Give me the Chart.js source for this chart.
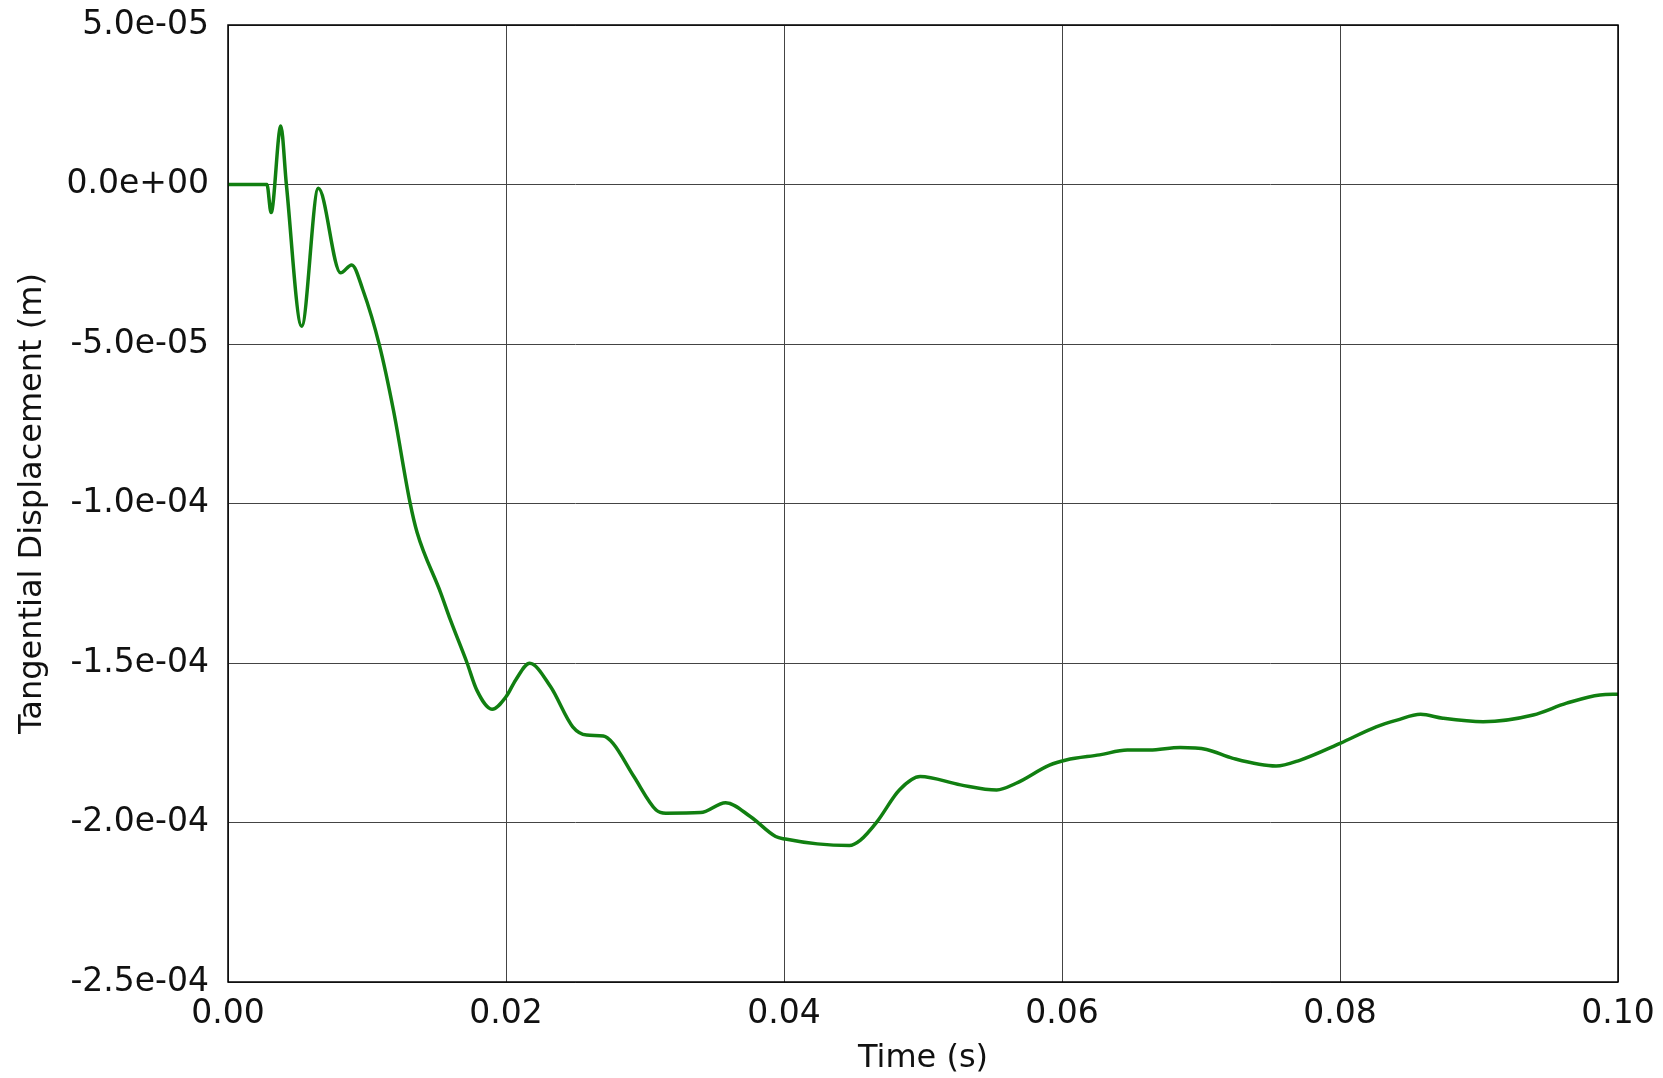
<!DOCTYPE html>
<html>
<head>
<meta charset="utf-8">
<script src="https://cdn.jsdelivr.net/npm/chart.js@4.4.1/dist/chart.umd.min.js"></script>
<style>
  body { margin: 0; background: #fff; }
  #wrap { width: 1663px; height: 1078px; }
</style>
</head>
<body>
<div id="wrap"><canvas id="my_graph" width="1663" height="1078"></canvas></div>
<script>
// time (s) and tangential displacement (in micrometres)
let time_vals = [0, 0.0028, 0.0031, 0.0038, 0.0042, 0.0053, 0.0065, 0.0081, 0.0089, 0.0097,
  0.0109, 0.0119, 0.0131, 0.0136, 0.0153, 0.0160, 0.0172, 0.0179, 0.0190, 0.0200,
  0.0207, 0.0217, 0.0232, 0.0248, 0.0258, 0.0270, 0.0277, 0.0292, 0.0308, 0.0315,
  0.0340, 0.0358, 0.0376, 0.0394, 0.0401, 0.0424, 0.0447, 0.0455, 0.0467, 0.0483,
  0.0498, 0.0527, 0.0553, 0.0567, 0.0591, 0.0603, 0.0627, 0.0647, 0.0663, 0.0685,
  0.0704, 0.0723, 0.0754, 0.0771, 0.0800, 0.0826, 0.0841, 0.0858, 0.0874, 0.0903,
  0.0939, 0.0963, 0.0987, 0.1000];
let disp_micro = [0, 0, -8.8, 18.3, 0, -44.4, -1.2, -27.7, -25.2, -33,
  -50.5, -70.7, -99.8, -109, -128, -136.5, -150, -158.5, -164.5, -160.6,
  -155.3, -150.1, -157.4, -170, -172.6, -172.9, -175.2, -185.6, -196.1, -197.1,
  -196.9, -193.8, -198.2, -204.4, -205.2, -206.7, -207.2, -205.5, -199.7, -189.8,
  -185.6, -188.2, -189.8, -187.7, -182, -180.4, -178.8, -177.3, -177.3, -176.5,
  -177.1, -179.9, -182.3, -180.5, -175.2, -170, -167.9, -166.1, -167.3, -168.4,
  -166.3, -162.6, -160, -159.8];
let x_ticks = [0, 0.02, 0.04, 0.06, 0.08, 0.10];
let y_ticks = [-2.5e-4, -2.0e-4, -1.5e-4, -1.0e-4, -5.0e-5, 0, 5.0e-5];

let points = time_vals.map((t, i) => ({ x: t, y: disp_micro[i] * 1e-6 }));

let sci_label = (v) => {
    if (Math.abs(v) < 1e-12) v = 0;
    return v.toExponential(1).replace(/e([+-])(\d)$/, 'e$10$2');
};

// black frame round the plot area
const frame_plugin = {
    id: 'frame',
    afterDraw(chart) {
        const a = chart.chartArea;
        const c = chart.ctx;
        c.save();
        c.strokeStyle = '#000';
        c.lineWidth = 1.5;
        c.strokeRect(a.left, a.top, a.right - a.left, a.bottom - a.top);
        c.restore();
    }
};

var ctx = document.getElementById('my_graph').getContext('2d');
var my_graph = new Chart(ctx, {
    type: 'scatter',
    data: {
        datasets: [{
            label: 'Tangential Displacement',
            data: points,
            showLine: true,
            fill: false,
            borderColor: '#117f11',
            borderWidth: 3.5,
            pointRadius: 0,
            cubicInterpolationMode: 'monotone'
        }]
    },
    options: {
        responsive: false,
        animation: false,
        devicePixelRatio: 1,
        layout: {
            padding: { left: 0, right: 45, top: 25, bottom: 0 }
        },
        plugins: {
            legend: { display: false },
            tooltip: { enabled: false }
        },
        scales: {
            x: {
                type: 'linear',
                min: 0,
                max: 0.1,
                afterFit: (scale) => {
                    scale.height = 96;
                    scale.paddingLeft = 0;
                    scale.paddingRight = 0;
                },
                afterBuildTicks: (scale) => { scale.ticks = x_ticks.map(v => ({ value: v })); },
                ticks: {
                    padding: 13,
                    color: '#111',
                    font: { family: 'DejaVu Sans', size: 33 },
                    callback: (v) => Number(v).toFixed(2),
                    maxRotation: 0
                },
                grid: { color: '#444', lineWidth: 1, drawTicks: false },
                border: { display: false },
                title: {
                    display: true,
                    text: 'Time (s)',
                    color: '#111',
                    font: { family: 'DejaVu Sans', size: 32 },
                    padding: { top: 0, bottom: 0 }
                }
            },
            y: {
                type: 'linear',
                min: -2.5e-4,
                max: 5e-5,
                afterFit: (scale) => {
                    scale.width = 228;
                    scale.paddingTop = 0;
                    scale.paddingBottom = 0;
                },
                afterBuildTicks: (scale) => { scale.ticks = y_ticks.map(v => ({ value: v })); },
                ticks: {
                    padding: 19,
                    color: '#111',
                    font: { family: 'DejaVu Sans', size: 33 },
                    callback: (v) => sci_label(v)
                },
                grid: { color: '#444', lineWidth: 1, drawTicks: false },
                border: { display: false },
                title: {
                    display: true,
                    text: 'Tangential Displacement (m)',
                    color: '#111',
                    font: { family: 'DejaVu Sans', size: 32 },
                    padding: { top: 13, bottom: 0 }
                }
            }
        }
    },
    plugins: [frame_plugin]
});
</script>
</body>
</html>
